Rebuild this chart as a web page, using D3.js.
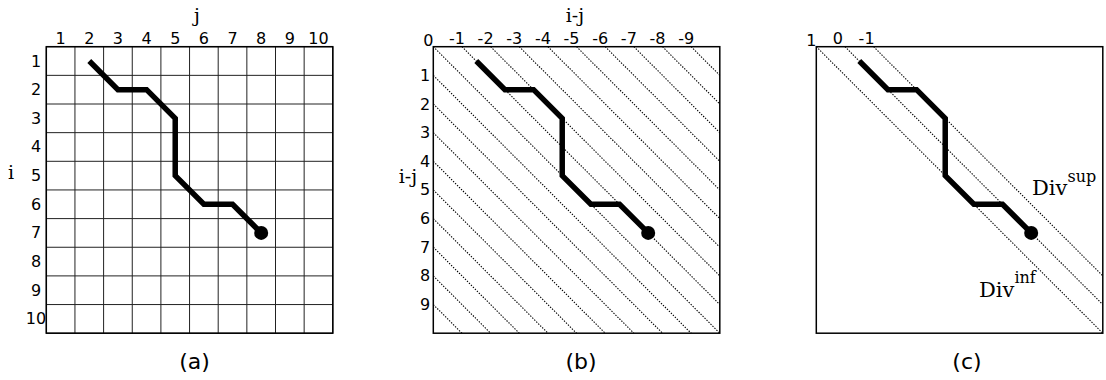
<!DOCTYPE html>
<html>
<head>
<meta charset="utf-8">
<script src="https://cdn.jsdelivr.net/npm/d3@7"></script>
<style>
  body { margin: 0; background: #fff; }
  .tick { font-family: "DejaVu Sans", sans-serif; font-size: 16px; fill: #000; }
  .ttl { font-family: "DejaVu Serif", serif; font-size: 19px; fill: #000; }
  .cap { font-family: "DejaVu Sans", sans-serif; font-size: 22px; fill: #000; }
</style>
</head>
<body>
<svg id="fig" width="1106" height="380"></svg>
<script>
// warping path (row i, column j)
var pathI = [1, 2, 2, 3, 5, 6, 6, 7];
var pathJ = [2, 3, 4, 5, 5, 6, 7, 8];

var colLabels = [1, 2, 3, 4, 5, 6, 7, 8, 9, 10];
var rowLabels = [1, 2, 3, 4, 5, 6, 7, 8, 9, 10];
var diagTopLabels = ["0", "-1", "-2", "-3", "-4", "-5", "-6", "-7", "-8", "-9"];
var diagLeftLabels = ["1", "2", "3", "4", "5", "6", "7", "8", "9"];
var diagOffsets = [-9, -8, -7, -6, -5, -4, -3, -2, -1, 0, 1, 2, 3, 4, 5, 6, 7, 8, 9];
var bandOffsets = [0, 1, 2];
var bandLabels = ["1", "0", "-1"];
var captions = ["(a)", "(b)", "(c)"];

var svg = d3.select("#fig");
var N = 10, size = 286.5, boxTop = 46.7;
var lefts = [46.3, 433.3, 816.3];

var y = d3.scaleLinear().domain([0, N]).range([boxTop, boxTop + size]);

function panel(idx) {
    var x = d3.scaleLinear().domain([0, N]).range([lefts[idx], lefts[idx] + size]);
    var g = svg.append("g");
    return { g: g, x: x };
}

function drawPath(p) {
    var line = d3.line()
            .x(function(d){ return p.x(d[1] - 0.5); })
            .y(function(d){ return y(d[0] - 0.5); });
    var pts = pathI.map(function(v, k){ return [v, pathJ[k]]; });
    p.g.append("path")
            .attr("d", line(pts))
            .attr("fill", "none")
            .attr("stroke", "#000")
            .attr("stroke-width", 5.5)
            .attr("stroke-linejoin", "miter");
    var last = pts[pts.length - 1];
    p.g.append("circle")
            .attr("cx", p.x(last[1] - 0.5))
            .attr("cy", y(last[0] - 0.5))
            .attr("r", 7)
            .attr("fill", "#000");
}

function drawBox(p) {
    p.g.append("rect")
            .attr("x", p.x(0))
            .attr("y", y(0))
            .attr("width", p.x(N) - p.x(0))
            .attr("height", y(N) - y(0))
            .attr("fill", "none")
            .attr("stroke", "#000")
            .attr("stroke-width", 1.5);
}

function diag(p, k) {
    // line i - j = -k (in cells), clipped to the box
    var x1, y1, x2, y2;
    if (k >= 0) { x1 = k; y1 = 0; x2 = N; y2 = N - k; }
    else { x1 = 0; y1 = -k; x2 = N + k; y2 = N; }
    p.g.append("line")
            .attr("x1", p.x(x1)).attr("y1", y(y1))
            .attr("x2", p.x(x2)).attr("y2", y(y2))
            .attr("stroke", "#000")
            .attr("stroke-width", 1.1)
            .attr("stroke-dasharray", "1.4,1.4");
}

// (a) full grid
var a = panel(0);
d3.range(0, N + 1).forEach(function(k){
    a.g.append("line")
            .attr("x1", a.x(k)).attr("x2", a.x(k))
            .attr("y1", y(0)).attr("y2", y(N))
            .attr("stroke", "#222").attr("stroke-width", 1);
    a.g.append("line")
            .attr("x1", a.x(0)).attr("x2", a.x(N))
            .attr("y1", y(k)).attr("y2", y(k))
            .attr("stroke", "#222").attr("stroke-width", 1);
});
drawBox(a);
a.g.selectAll(".colL").data(colLabels).enter().append("text")
        .attr("class", "tick")
        .attr("x", function(d){ return a.x(d - 0.5); })
        .attr("y", 44)
        .attr("text-anchor", "middle")
        .text(function(d){ return d; });
a.g.selectAll(".rowL").data(rowLabels).enter().append("text")
        .attr("class", "tick")
        .attr("x", 36)
        .attr("y", function(d){ return y(d - 0.5) + 5.5; })
        .attr("text-anchor", "middle")
        .text(function(d){ return d; });
a.g.append("text").attr("class", "ttl").attr("x", 197).attr("y", 22)
        .attr("text-anchor", "middle").text("j");
a.g.append("text").attr("class", "ttl").attr("x", 11).attr("y", 179)
        .attr("text-anchor", "middle").text("i");
drawPath(a);

// (b) all diagonals
var b = panel(1);
diagOffsets.forEach(function(k){ diag(b, k); });
drawBox(b);
b.g.selectAll(".topL").data(diagTopLabels).enter().append("text")
        .attr("class", "tick")
        .attr("x", function(d, k){ return b.x(k) - 5; })
        .attr("y", function(d, k){ return k === 0 ? 46 : 44; })
        .attr("text-anchor", "middle")
        .text(function(d){ return d; });
b.g.selectAll(".leftL").data(diagLeftLabels).enter().append("text")
        .attr("class", "tick")
        .attr("x", 425)
        .attr("y", function(d, k){ return y(k + 1) + 5.5; })
        .attr("text-anchor", "middle")
        .text(function(d){ return d; });
b.g.append("text").attr("class", "ttl").attr("x", 575).attr("y", 22)
        .attr("text-anchor", "middle").text("i-j");
b.g.append("text").attr("class", "ttl").attr("x", 408).attr("y", 183)
        .attr("text-anchor", "middle").text("i-j");
drawPath(b);

// (c) band between Div^inf and Div^sup
var c = panel(2);
bandOffsets.forEach(function(k){ diag(c, k); });
drawBox(c);
c.g.selectAll(".bandL").data(bandLabels).enter().append("text")
        .attr("class", "tick")
        .attr("x", function(d, k){ return c.x(bandOffsets[k]) - (k === 0 ? 5 : 7); })
        .attr("y", function(d, k){ return k === 0 ? 46 : 44; })
        .attr("text-anchor", "middle")
        .text(function(d){ return d; });
var sup = c.g.append("text").attr("class", "ttl").style("font-size", "21px")
        .attr("x", 1032).attr("y", 195);
sup.append("tspan").text("Div");
sup.append("tspan").attr("dy", -13).style("font-size", "16px").text("sup");
var inf = c.g.append("text").attr("class", "ttl").style("font-size", "21px")
        .attr("x", 979).attr("y", 297);
inf.append("tspan").text("Div");
inf.append("tspan").attr("dy", -14).style("font-size", "16px").text("inf");
drawPath(c);

// captions
svg.selectAll(".cap").data(captions).enter().append("text")
        .attr("class", "cap")
        .attr("x", function(d, k){ return [194.5, 581, 967][k]; })
        .attr("y", 369)
        .attr("text-anchor", "middle")
        .text(function(d){ return d; });
</script>
</body>
</html>
